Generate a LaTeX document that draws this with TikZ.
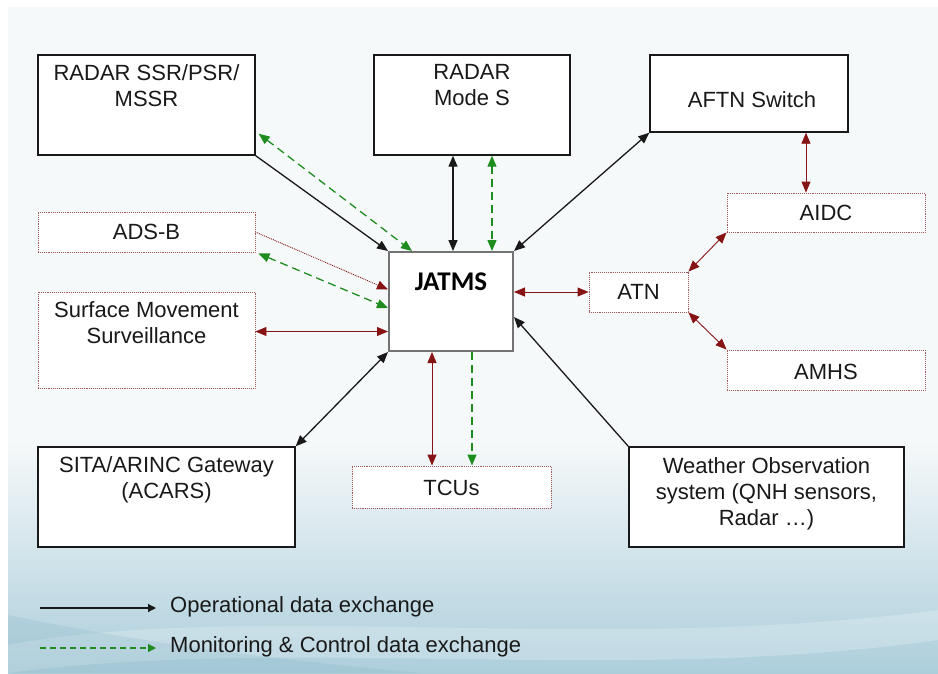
\documentclass[tikz,border=0pt]{standalone}
\usepackage{fontspec}
\setmainfont{Liberation Sans}
\newfontfamily\jfont{Carlito}
\usetikzlibrary{arrows.meta,calc}
\definecolor{dred}{RGB}{135,20,20}
\definecolor{bred}{RGB}{165,90,90}
\definecolor{mgreen}{RGB}{30,140,30}
\definecolor{ink}{RGB}{25,25,25}
\begin{document}
\begin{tikzpicture}[x=1pt,y=-1pt,
  blackbox/.style={draw=ink, line width=1.4pt, fill=white, inner sep=0},
  redbox/.style={draw=bred, densely dotted, line width=0.9pt, fill=white, inner sep=0},
  txt/.style={font=\fontsize{22}{26}\selectfont, align=center, text=ink, inner sep=0},
  tip/.tip={Triangle[length=11pt,width=9pt]},
  op/.style={line width=1.3pt, draw=ink},
  mc/.style={line width=1.3pt, draw=mgreen, dash pattern=on 8pt off 5pt},
  rd/.style={line width=0.9pt, draw=dred},
  rdot/.style={line width=0.9pt, draw=dred, densely dotted},
  ltip/.tip={Triangle[length=8pt,width=8pt]}
]
\useasboundingbox (0,0) rectangle (938,673);
% background
\fill[white] (0,0) rectangle (938,673);
\fill[color={rgb,255:red,246;green,249;blue,250}] (8,7) rectangle (938,440);
\shade[top color={rgb,255:red,246;green,249;blue,250}, bottom color={rgb,255:red,172;green,206;blue,219}] (8,440) rectangle (938,673);
\fill[white, opacity=0.22] (8,645) .. controls (250,600) and (600,655) .. (938,610) -- (938,640) .. controls (620,685) and (300,635) .. (8,673) -- cycle;
\fill[color={rgb,255:red,120;green,170;blue,190}, opacity=0.18] (8,615) .. controls (150,645) and (300,662) .. (420,673) -- (8,673) -- cycle;

% boxes
\node[blackbox, minimum width=217, minimum height=100] (ssr) at (146.5,105) {};
\node[blackbox, minimum width=196, minimum height=100] (modes) at (472,105) {};
\node[blackbox, minimum width=198, minimum height=77] (aftn) at (749,93.5) {};
\node[redbox, minimum width=217, minimum height=40] (adsb) at (146.5,232) {};
\node[redbox, minimum width=217, minimum height=96] (smr) at (146.5,340) {};
\node[draw=black!55, line width=2pt, fill=white, inner sep=0, minimum width=124, minimum height=99] (jatms) at (451,301.5) {};
\node[redbox, minimum width=99, minimum height=40] (atn) at (638.5,292) {};
\node[redbox, minimum width=198, minimum height=39] (aidc) at (826,212.5) {};
\node[redbox, minimum width=198, minimum height=40] (amhs) at (826,370) {};
\node[blackbox, minimum width=257, minimum height=100] (sita) at (166.5,497) {};
\node[redbox, minimum width=199, minimum height=42] (tcus) at (451.5,487) {};
\node[blackbox, minimum width=275, minimum height=100] (wx) at (766.5,497) {};

% texts
\node[txt] (ssrt) at ($(ssr.north)+(0,31)$) {RADAR SSR/PSR/\\MSSR};
\node[txt] (modest) at ($(modes.north)+(0,31)$) {RADAR\\Mode S};
\node[txt] (aftnt) at ($(aftn.north)+(3,45)$) {AFTN Switch};
\node[txt] (adsbt) at (adsb.center) {ADS-B};
\node[txt] (smrt) at ($(smr.north)+(0,31)$) {Surface Movement\\Surveillance};
\node[inner sep=0, font=\jfont\bfseries\fontsize{27}{30}\selectfont, text=black] (jatmst) at ($(jatms.north)+(0,31)$) {JATMS};
\node[txt] (atnt) at (atn.center) {ATN};
\node[txt] (aidct) at (aidc.center) {AIDC};
\node[txt] (amhst) at ($(amhs.center)+(0,2)$) {AMHS};
\node[txt] (sitat) at ($(sita.north)+(0,33.5)$) {SITA/ARINC Gateway\\(ACARS)};
\node[txt] (tcust) at ($(tcus.center)+(0,1)$) {TCUs};
\node[txt] (wxt) at ($(wx.north)+(0,47)$) {Weather Observation\\system (QNH sensors,\\Radar \dots)};

% connectors
\draw[op, -tip] (ssr.south east) -- (jatms.north west);
\draw[mc, tip-tip] ($(ssr.south east)+(3,-22)$) -- ($(jatms.north west)+(24,0)$);
\path ($(jatms.north)+(2,0)$) coordinate (v1) ($(jatms.north)+(41,0)$) coordinate (v2);
\draw[op, tip-tip] (v1 |- modes.south) -- (v1);
\draw[mc, tip-tip] (v2 |- modes.south) -- (v2);
\draw[op, tip-tip] (jatms.north east) -- (aftn.south west);
\draw[rdot, -tip] (adsb.east) -- ($(jatms.west)+(0,-12)$);
\draw[mc, tip-tip] ($(adsb.south east)+(3,1)$) -- ($(jatms.west)+(0,6.5)$);
\path ($(jatms.west)+(0,30)$) coordinate (h1);
\draw[rd, tip-tip] (h1 -| smr.east) -- (h1);
\draw[op, tip-tip] (jatms.south west) -- (sita.north east);
\path ($(jatms.south)+(-19,0)$) coordinate (b1) ($(jatms.south)+(21,0)$) coordinate (b2);
\draw[rd, tip-tip] (b1) -- (b1 |- tcus.north);
\draw[mc, -tip] (b2) -- (b2 |- tcus.north);
\draw[op, -tip] (wx.north west) -- ($(jatms.east)+(0,15.5)$);
\draw[rd, tip-tip] (atn.west -| jatms.east) -- (atn.west);
\draw[rd, tip-tip] (atn.north east) -- (aidc.south west);
\draw[rd, tip-tip] (atn.south east) -- (amhs.north west);
\path ($(aidc.north)+(-20,0)$) coordinate (a1);
\draw[rd, tip-tip] (a1 |- aftn.south) -- (a1);

% legend
\coordinate (l1s) at (40,608);
\coordinate (l1e) at (156,608);
\coordinate (l2s) at (40,648);
\coordinate (l2e) at (156,648);
\draw[op, line width=1.2pt, -ltip] (l1s) -- (l1e);
\draw[mc, line width=1.2pt, dash pattern=on 6pt off 4pt, -ltip] (l2s) -- (l2e);
\node[txt, anchor=west] (lt1) at (170,607) {Operational data exchange};
\node[txt, anchor=west] (lt2) at (170,647) {Monitoring \& Control data exchange};
\end{tikzpicture}
\end{document}
